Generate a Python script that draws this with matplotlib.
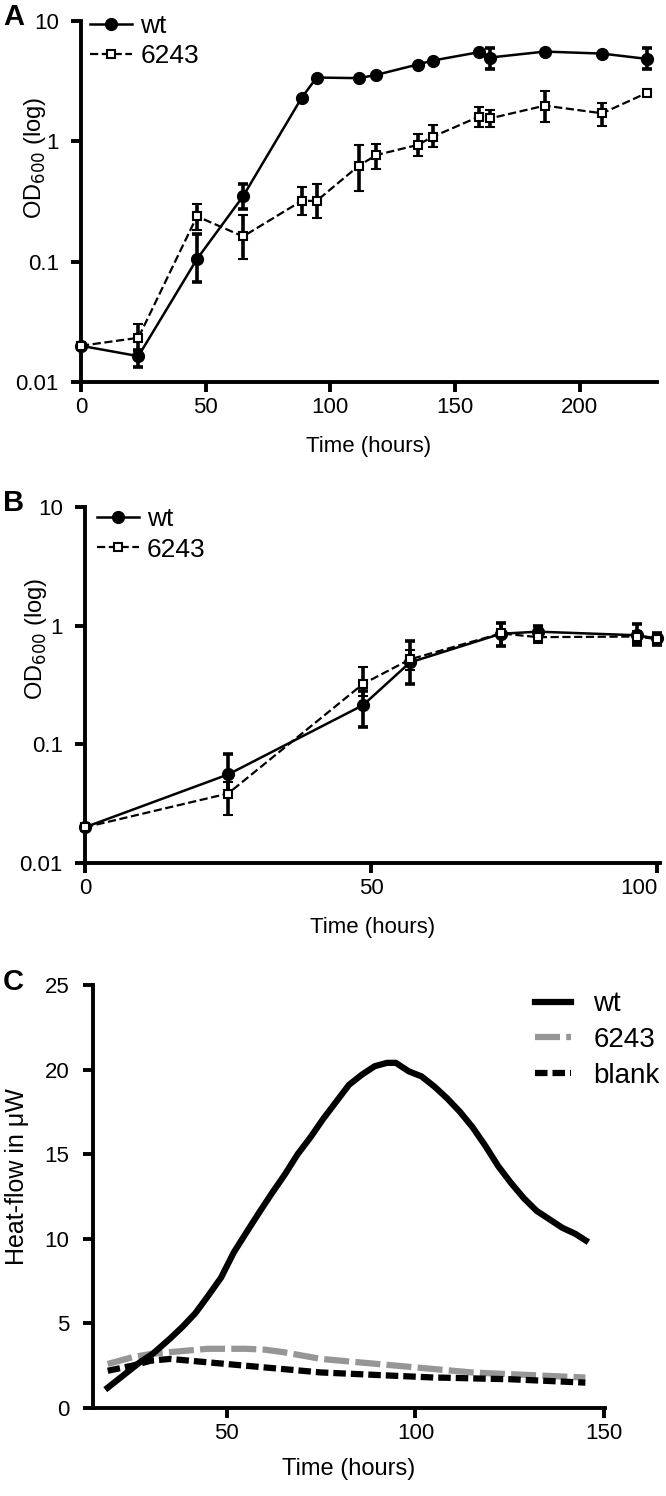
import numpy as np
import matplotlib
matplotlib.use("Agg")
import matplotlib.pyplot as plt
from matplotlib.ticker import FixedLocator, NullLocator

plt.rcParams['font.family'] = ['Liberation Sans', 'DejaVu Sans']

# panel A: growth, OD600 (log)
t_a = [0, 23, 46.5, 65, 88.5, 94.5, 111.5, 118.5, 135, 141, 159.5, 164, 186, 209, 227]
wt_a = [0.02, 0.0164, 0.105, 0.35, 2.30, 3.39, 3.35, 3.57, 4.35, 4.69, 5.5, 4.97, 5.57, 5.36, 4.84]
wt_a_lo = [0, 0.003, 0.037, 0.075, 0, 0, 0, 0, 0, 0, 0, 1.0, 0, 0, 0.87]
wt_a_hi = [0, 0.002, 0.066, 0.093, 0, 0, 0, 0, 0, 0, 0, 0.96, 0, 0, 1.09]
mu_a = [0.02, 0.0233, 0.238, 0.162, 0.32, 0.32, 0.629, 0.77, 0.933, 1.09, 1.6, 1.55, 1.98, 1.71, 2.53]
mu_a_lo = [0, 0.0053, 0.054, 0.056, 0.078, 0.088, 0.239, 0.18, 0.177, 0.2, 0.28, 0.23, 0.54, 0.36, 0]
mu_a_hi = [0, 0.0069, 0.065, 0.08, 0.101, 0.123, 0.309, 0.18, 0.217, 0.27, 0.34, 0.27, 0.65, 0.39, 0]

# panel B
t_b = [0, 25, 48.6, 56.8, 72.7, 79.2, 96.4, 100]
wt_b = [0.02, 0.0557, 0.214, 0.49, 0.855, 0.89, 0.83, 0.78]
wt_b_lo = [0, 0.016, 0.075, 0.167, 0.185, 0.08, 0.14, 0.09]
wt_b_hi = [0, 0.027, 0.07, 0.248, 0.205, 0.11, 0.21, 0.08]
mu_b = [0.02, 0.0385, 0.323, 0.52, 0.86, 0.80, 0.81, 0.77]
mu_b_lo = [0, 0.013, 0.07, 0.1, 0.19, 0.08, 0.09, 0.08]
mu_b_hi = [0, 0.01, 0.123, 0.1, 0.2, 0.09, 0.09, 0.09]

# panel C: heat flow (uW)
t_c = [18.5, 23.6, 27, 30.4, 35, 38.3, 41.7, 45, 48.5, 51.9, 55.3, 58.6, 62, 65.4, 68.8,
       72.2, 75.6, 79, 82.4, 85.8, 89.2, 92.5, 94.8, 98.2, 101.6, 105, 108.4, 111.8,
       115.1, 118.5, 121.9, 125.3, 128.7, 132.1, 135.5, 138.9, 142.3, 145.1]
wt_c = [1.2, 2.1, 2.7, 3.2, 4.1, 4.8, 5.6, 6.6, 7.7, 9.2, 10.4, 11.55, 12.7, 13.8, 15.0,
        16.0, 17.1, 18.1, 19.1, 19.7, 20.2, 20.4, 20.4, 19.9, 19.6, 19.0, 18.3, 17.5,
        16.6, 15.5, 14.3, 13.3, 12.4, 11.65, 11.15, 10.65, 10.3, 9.9]
t_c2 = [18.5, 25, 30, 35, 40, 45, 50, 55, 60, 65, 70, 75, 85, 95, 105, 110, 115, 125, 135, 145]
mu_c = [2.6, 3.0, 3.2, 3.3, 3.4, 3.5, 3.5, 3.5, 3.45, 3.3, 3.1, 2.9, 2.7, 2.5, 2.3, 2.2, 2.1, 2.0, 1.9, 1.8]
blank_c = [2.2, 2.5, 2.8, 2.9, 2.8, 2.7, 2.6, 2.5, 2.4, 2.3, 2.2, 2.1, 2.0, 1.9, 1.8, 1.78, 1.75, 1.7, 1.6, 1.5]

W, H = 666, 1496
fig = plt.figure(figsize=(W / 100, H / 100), dpi=100)

def rect(x0, x1, ytop, ybot):
    return [x0 / W, 1 - ybot / H, (x1 - x0) / W, (ybot - ytop) / H]

def style(ax, ypad=9):
    for s in ['top', 'right']:
        ax.spines[s].set_visible(False)
    for s in ['left', 'bottom']:
        ax.spines[s].set_linewidth(2.8)
    ax.tick_params(width=2.8, length=7, labelsize=16, direction='out')
    ax.tick_params(axis='y', pad=ypad)
    ax.tick_params(axis='x', pad=4)

def growth(ax, t, wt, wlo, whi, mu, mlo, mhi, xmax, xt, leg_xy, lab_xy):
    ax.errorbar(t, wt, yerr=[wlo, whi], fmt='-o', color='black', lw=1.8, ms=8.5,
                elinewidth=2.6, capsize=3.4, capthick=2.6, label='wt', clip_on=False, zorder=3)
    ax.errorbar(t, mu, yerr=[mlo, mhi], fmt='--s', color='black', lw=1.6, ms=5.5,
                mfc='white', mew=1.5, elinewidth=2.6, capsize=3.4, capthick=2.6,
                label='6243', clip_on=False, zorder=3)
    ax.set_yscale('log')
    ax.set_ylim(0.01, 10)
    ax.set_xlim(0, xmax)
    ax.yaxis.set_major_locator(FixedLocator([0.01, 0.1, 1, 10]))
    ax.yaxis.set_minor_locator(NullLocator())
    ax.set_yticklabels(['0.01', '0.1', '1', '10'])
    ax.set_xticks(xt)
    ax.set_xlabel('Time (hours)', fontsize=16, labelpad=13)
    ax.set_ylabel('OD$_{600}$ (log)', fontsize=17, va='center', ha='center')
    ax.yaxis.set_label_coords(*lab_xy)
    style(ax)
    h, l = ax.get_legend_handles_labels()
    h = [x[0] for x in h]
    ax.legend(h, l, loc='upper left', bbox_to_anchor=leg_xy, frameon=False,
              fontsize=19, handlelength=1.6, handletextpad=0.3, labelspacing=0.25,
              borderaxespad=0, borderpad=0)

ax_a = fig.add_axes(rect(81, 657, 21, 382))
growth(ax_a, t_a, wt_a, wt_a_lo, wt_a_hi, mu_a, mu_a_lo, mu_a_hi, 231,
       [0, 50, 100, 150, 200], (0.016, 1.02), (-0.08, 0.62))

ax_b = fig.add_axes(rect(85, 660, 507, 863))
growth(ax_b, t_b, wt_b, wt_b_lo, wt_b_hi, mu_b, mu_b_lo, mu_b_hi, 100.5,
       [0, 50, 100], (0.02, 1.0), (-0.085, 0.63))
ax_b.get_xticklabels()[-1].set_horizontalalignment('right')

ax_c = fig.add_axes(rect(93, 605, 985, 1408))
ax_c.plot(t_c2, mu_c, color='#969696', lw=4.5, dashes=(4, 1), label='6243')
ax_c.plot(t_c2, blank_c, color='black', lw=4.5, dashes=(2, 0.8), label='blank')
ax_c.plot(t_c, wt_c, color='black', lw=4.5, label='wt')
ax_c.set_xlim(14.6, 150.2)
ax_c.set_ylim(0, 25)
ax_c.set_xticks([50, 100, 150])
ax_c.set_yticks([0, 5, 10, 15, 20, 25])
ax_c.set_xlabel('Time (hours)', fontsize=17, labelpad=10)
ax_c.set_ylabel('Heat-flow in μW', fontsize=18, va='center', ha='center')
ax_c.yaxis.set_label_coords(-0.148, 0.546)
style(ax_c, ypad=10)
h, l = ax_c.get_legend_handles_labels()
order = [2, 0, 1]
ax_c.legend([h[i] for i in order], [l[i] for i in order], loc='upper left',
            bbox_to_anchor=(0.863, 0.985), frameon=False, fontsize=20, handlelength=1.3,
            handletextpad=0.8, labelspacing=0.35, borderaxespad=0, borderpad=0)

fig.text(3 / W, 1 - 17 / H, 'A', fontsize=21, fontweight='bold', va='center')
fig.text(3 / W, 1 - 503 / H, 'B', fontsize=21, fontweight='bold', va='center')
fig.text(3 / W, 1 - 982 / H, 'C', fontsize=21, fontweight='bold', va='center')

fig.savefig('out.png', dpi=100)
